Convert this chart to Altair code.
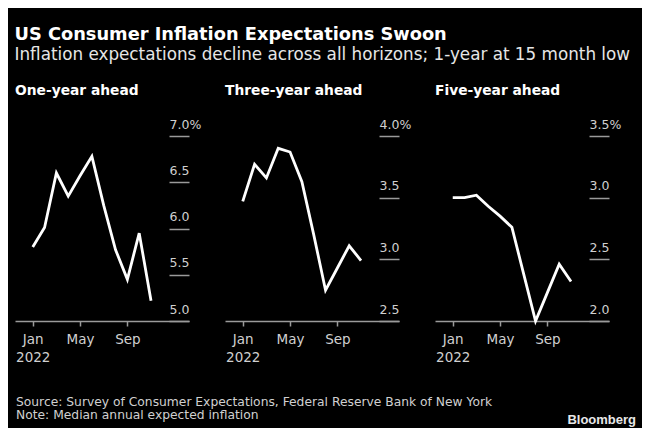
import altair as alt
import pandas as pd

# ---- data ----
month_num = list(range(1, 12))  # Jan..Nov 2022
one_year = [5.80, 6.01, 6.60, 6.35, 6.57, 6.78, 6.25, 5.77, 5.45, 5.95, 5.22]
three_year = [3.47, 3.77, 3.66, 3.90, 3.87, 3.63, 3.20, 2.75, 2.93, 3.11, 2.99]
five_year = [3.00, 3.00, 3.02, 2.93, 2.85, 2.76, 2.38, 2.00, 2.23, 2.46, 2.32]
panel_titles = ["One-year ahead", "Three-year ahead", "Five-year ahead"]
y_domains = [(5.0, 7.0), (2.5, 4.0), (2.0, 3.5)]
x_tick_months = [1, 5, 9]
x_tick_labels = ["Jan", "May", "Sep"]
year_label = "2022"
title = "US Consumer Inflation Expectations Swoon"
subtitle = "Inflation expectations decline across all horizons; 1-year at 15 month low"
source = "Source: Survey of Consumer Expectations, Federal Reserve Bank of New York"
note = "Note: Median annual expected inflation"
brand = "Bloomberg"

FONT = "DejaVu Sans"
LABEL = "#d0d0d0"
TICK = "#9a9a9a"

label_expr = (
    f"datum.value == {x_tick_months[0]} ? ['{x_tick_labels[0]}', '{year_label}'] : "
    f"datum.value == {x_tick_months[1]} ? '{x_tick_labels[1]}' : '{x_tick_labels[2]}'"
)


def panel(name, values, dom):
    lo, hi = dom
    df = pd.DataFrame({"month": month_num, "value": values})
    n = int(round((hi - lo) / 0.5))
    ticks = [round(lo + 0.5 * i, 1) for i in range(n + 1)]
    y_expr = (
        f"datum.value >= {hi - 0.01} ? format(datum.value, '.1f') + '%' : format(datum.value, '.1f')"
    )
    return (
        alt.Chart(
            df,
            title=alt.TitleParams(
                name,
                anchor="start",
                font=FONT,
                fontSize=13.8,
                fontWeight="bold",
                color="white",
                baseline="alphabetic",
                offset=9,
            ),
        )
        .mark_line(color="white", strokeWidth=2.8)
        .encode(
            x=alt.X(
                "month:Q",
                scale=alt.Scale(domain=[-0.5, 14.21], nice=False, zero=False),
                axis=alt.Axis(
                    values=x_tick_months,
                    labelExpr=label_expr,
                    title=None,
                    grid=False,
                    domainColor=TICK,
                    domainWidth=1.5,
                    tickColor=TICK,
                    tickSize=5,
                    tickWidth=1.5,
                    labelColor=LABEL,
                    labelFont=FONT,
                    labelFontSize=13.5,
                    labelPadding=6,
                    labelLineHeight=18,
                    labelFlush=False,
                    labelOverlap=False,
                ),
            ),
            y=alt.Y(
                "value:Q",
                scale=alt.Scale(domain=[lo, hi], nice=False, zero=False),
                axis=alt.Axis(
                    orient="right",
                    values=ticks,
                    labelExpr=y_expr,
                    title=None,
                    grid=False,
                    domain=False,
                    offset=-20,
                    tickSize=20,
                    tickColor=TICK,
                    tickWidth=1.5,
                    labelPadding=-20,
                    labelAlign="left",
                    labelBaseline="alphabetic",
                    labelOffset=-8,
                    labelColor=LABEL,
                    labelFont=FONT,
                    labelFontSize=12.5,
                    labelOverlap=False,
                ),
            ),
        )
        .properties(width=174, height=185)
    )


panels = alt.hconcat(
    panel(panel_titles[0], one_year, y_domains[0]),
    panel(panel_titles[1], three_year, y_domains[1]),
    panel(panel_titles[2], five_year, y_domains[2]),
    spacing=36,
    bounds="flush",
)

src_df = pd.DataFrame({"t": [source]})
note_df = pd.DataFrame({"t": [note]})
brand_df = pd.DataFrame({"t": [brand]})

footer = alt.layer(
    alt.Chart(src_df).mark_text(
        align="left", baseline="middle", font=FONT, fontSize=12.3, color=LABEL
    ).encode(text="t:N", x=alt.value(1), y=alt.value(27)),
    alt.Chart(note_df).mark_text(
        align="left", baseline="middle", font=FONT, fontSize=12.3, color=LABEL
    ).encode(text="t:N", x=alt.value(1), y=alt.value(40)),
    alt.Chart(brand_df).mark_text(
        align="right", baseline="middle", font="Liberation Sans", fontSize=13,
        fontWeight="bold", color="#e8e8e8"
    ).encode(text="t:N", x=alt.value(621), y=alt.value(45)),
).properties(width=600, height=50)

chart = (
    alt.vconcat(panels, footer, spacing=10)
    .properties(
        title=alt.TitleParams(
            title,
            subtitle=subtitle,
            anchor="start",
            font=FONT,
            fontSize=17.8,
            fontWeight="bold",
            color="white",
            subtitleFont=FONT,
            subtitleFontSize=16.8,
            subtitleColor="#e6e6e6",
            subtitlePadding=3.2,
            offset=20,
        ),
        background="#000000",
        padding={"left": 6, "top": 17, "right": 5, "bottom": 0},
    )
    .configure_view(stroke="transparent")
)

chart.save("out.html", embed_options={"renderer": "svg", "actions": False})
